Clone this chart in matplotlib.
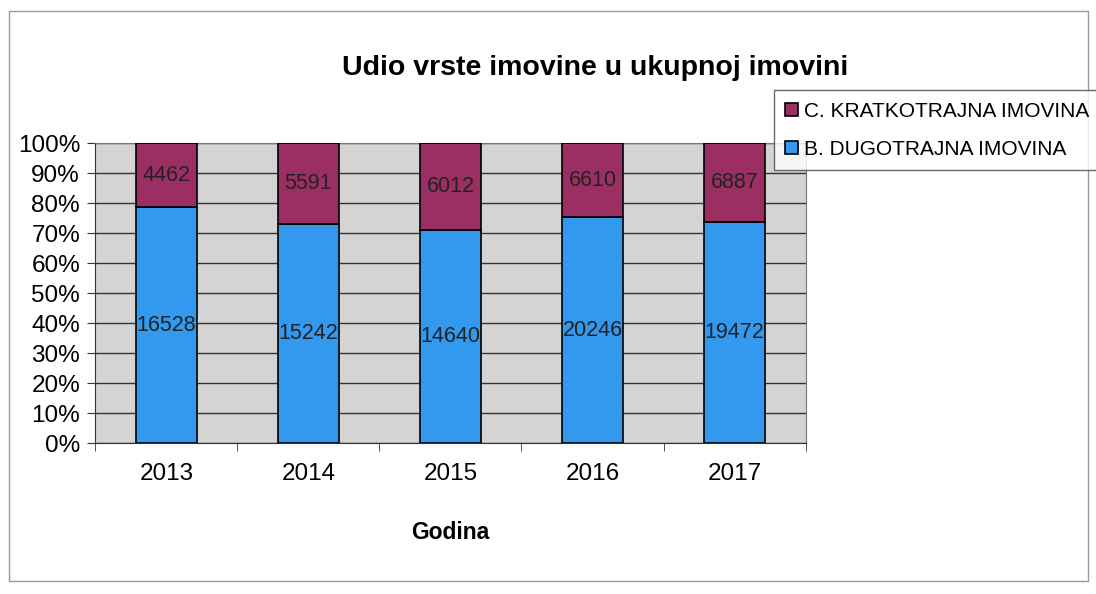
import numpy as np
import matplotlib.pyplot as plt
from matplotlib.patches import Rectangle

plt.rcParams['font.family'] = ['Liberation Sans', 'DejaVu Sans']

years = ['2013', '2014', '2015', '2016', '2017']
dugotrajna = [16528, 15242, 14640, 20246, 19472]
kratkotrajna = [4462, 5591, 6012, 6610, 6887]

dug = np.array(dugotrajna, dtype=float)
krat = np.array(kratkotrajna, dtype=float)
total = dug + krat
dug_pct = dug / total * 100
krat_pct = krat / total * 100

fig = plt.figure(figsize=(10.96, 5.94), dpi=100)
fig.patch.set_facecolor('white')
fig.patches.append(Rectangle((0.008, 0.022), 0.985, 0.96, transform=fig.transFigure,
                             fill=False, edgecolor='#9a9a9a', linewidth=1))

ax = fig.add_axes([0.087, 0.254, 0.648, 0.505])
ax.set_facecolor('#d4d4d4')

x = np.arange(len(years))
width = 0.43
b1 = ax.bar(x, dug_pct, width, color='#3399ee', edgecolor='black', linewidth=1.2,
            label='B. DUGOTRAJNA IMOVINA', zorder=3)
b2 = ax.bar(x, krat_pct, width, bottom=dug_pct, color='#9b2f63', edgecolor='black',
            linewidth=1.2, label='C. KRATKOTRAJNA IMOVINA', zorder=3)

for i in range(len(years)):
    ax.text(x[i], dug_pct[i] / 2, str(dugotrajna[i]), ha='center', va='center',
            fontsize=15.5, color='#222222', zorder=4)
    ax.text(x[i], dug_pct[i] + krat_pct[i] / 2, str(kratkotrajna[i]), ha='center',
            va='center', fontsize=15.5, color='#222222', zorder=4)

ax.set_xlim(-0.5, len(years) - 0.5)
ax.set_ylim(0, 100)
ax.set_yticks(np.arange(0, 101, 10))
ax.set_yticklabels([f'{v}%' for v in range(0, 101, 10)], fontsize=17.5)
ax.set_xticks(x)
ax.set_xticklabels(years, fontsize=17.5)
ax.set_xticks(np.arange(-0.5, len(years), 1), minor=True)
ax.tick_params(axis='x', which='major', length=0, pad=14)
ax.tick_params(axis='x', which='minor', length=6, direction='out', color='#333333')
ax.tick_params(axis='y', length=6, direction='out', color='#333333', pad=5)
ax.yaxis.grid(True, color='#333333', linewidth=1, zorder=1)
ax.set_axisbelow(True)
for s in ['top', 'right']:
    ax.spines[s].set_color('#777777')
for s in ['left', 'bottom']:
    ax.spines[s].set_color('#333333')

ax.set_xlabel('Godina', fontsize=16.5, fontweight='bold', labelpad=26)
fig.text(0.543, 0.885, 'Udio vrste imovine u ukupnoj imovini', ha='center',
         va='center', fontsize=20.5, fontweight='bold')

leg = fig.legend(handles=[b2, b1], loc='upper left', bbox_to_anchor=(0.702, 0.855),
                 fontsize=15, frameon=True, fancybox=False, edgecolor='#444444',
                 handlelength=0.6, handleheight=0.6, handletextpad=0.3,
                 borderpad=0.55, labelspacing=0.9, borderaxespad=0.2)
leg.get_frame().set_linewidth(1)

fig.savefig('out.png', dpi=100)
